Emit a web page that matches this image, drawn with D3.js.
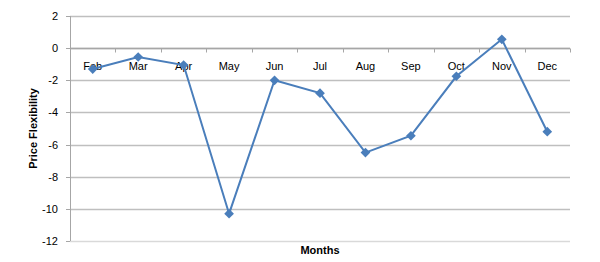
<!DOCTYPE html>
<html>
<head>
<meta charset="utf-8">
<script src="https://cdn.jsdelivr.net/npm/d3@7"></script>
<style>
  body { margin: 0; background: #fff; }
  text { font-family: "Liberation Sans", Arial, sans-serif; }
</style>
</head>
<body>
<div id="chart"></div>
<script>
// data
var months = ["Feb", "Mar", "Apr", "May", "Jun", "Jul", "Aug", "Sep", "Oct", "Nov", "Dec"];
var flexibility = [-1.3, -0.55, -1.05, -10.3, -2.0, -2.8, -6.5, -5.45, -1.75, 0.55, -5.2];
var yTicks = [2, 0, -2, -4, -6, -8, -10, -12];

var width = 600, height = 262;
// plot box (note: "top" is a window global, so use other names)
var plotLeft = 70, plotRight = 570, plotTop = 16, plotBottom = 241;

var svg = d3.select("#chart").append("svg")
    .attr("width", width)
    .attr("height", height);

var x = d3.scaleBand()
    .domain(months)
    .range([plotLeft, plotRight]);

var y = d3.scaleLinear()
    .domain([-12, 2])
    .range([plotBottom, plotTop]);

// horizontal gridlines
svg.selectAll("line.grid")
    .data(yTicks)
    .enter()
    .append("line")
    .attr("class", "grid")
    .attr("x1", plotLeft)
    .attr("x2", plotRight)
    .attr("y1", function(d) { return Math.round(y(d)) + 0.5; })
    .attr("y2", function(d) { return Math.round(y(d)) + 0.5; })
    .attr("stroke", function(d) { return d === -12 ? "#d9d9d9" : "#bfbfbf"; })
    .attr("stroke-width", 1.3);

// y axis line
svg.append("line")
    .attr("x1", plotLeft + 0.5).attr("x2", plotLeft + 0.5)
    .attr("y1", plotTop).attr("y2", plotBottom)
    .attr("stroke", "#a6a6a6");

// y tick labels
svg.selectAll("text.ylab")
    .data(yTicks)
    .enter()
    .append("text")
    .attr("class", "ylab")
    .attr("x", 58)
    .attr("y", function(d) { return y(d) + 4; })
    .attr("text-anchor", "end")
    .attr("font-size", "11px")
    .attr("fill", "#000")
    .text(function(d) { return d; });

// small tick stubs on y axis
svg.selectAll("line.ytick")
    .data(yTicks)
    .enter()
    .append("line")
    .attr("class", "ytick")
    .attr("x1", plotLeft - 4).attr("x2", plotLeft)
    .attr("y1", function(d) { return Math.round(y(d)) + 0.5; })
    .attr("y2", function(d) { return Math.round(y(d)) + 0.5; })
    .attr("stroke", "#a6a6a6");

// x axis crosses at zero, ticks between categories
var y0 = Math.round(y(0)) + 0.5;
svg.append("line")
    .attr("x1", plotLeft).attr("x2", plotRight)
    .attr("y1", y0).attr("y2", y0)
    .attr("stroke", "#a6a6a6")
    .attr("stroke-width", 1.3);

var boundaries = months.map(function(m) { return x(m); }).concat([plotRight]);
svg.selectAll("line.xtick")
    .data(boundaries)
    .enter()
    .append("line")
    .attr("class", "xtick")
    .attr("x1", function(d) { return Math.round(d) + 0.5; })
    .attr("x2", function(d) { return Math.round(d) + 0.5; })
    .attr("y1", y0).attr("y2", y0 + 4)
    .attr("stroke", "#a6a6a6");

// category labels just under the zero line
svg.selectAll("text.xlab")
    .data(months)
    .enter()
    .append("text")
    .attr("class", "xlab")
    .attr("x", function(d) { return x(d) + x.bandwidth() / 2; })
    .attr("y", y0 + 21)
    .attr("text-anchor", "middle")
    .attr("font-size", "11px")
    .attr("fill", "#000")
    .text(function(d) { return d; });

// the series
var line = d3.line()
    .x(function(d, i) { return x(months[i]) + x.bandwidth() / 2; })
    .y(function(d) { return y(d); });

svg.append("path")
    .datum(flexibility)
    .attr("d", line)
    .attr("fill", "none")
    .attr("stroke", "#4a7ebb")
    .attr("stroke-width", 2);

svg.selectAll("path.marker")
    .data(flexibility)
    .enter()
    .append("path")
    .attr("class", "marker")
    .attr("d", d3.symbol().type(d3.symbolDiamond2).size(60))
    .attr("transform", function(d, i) {
        return "translate(" + (x(months[i]) + x.bandwidth() / 2) + "," + y(d) + ")";
    })
    .attr("fill", "#4a7ebb");

// axis titles
svg.append("text")
    .attr("transform", "translate(37," + ((plotTop + plotBottom) / 2) + ") rotate(-90)")
    .attr("text-anchor", "middle")
    .attr("font-size", "11px")
    .attr("font-weight", "bold")
    .text("Price Flexibility");

svg.append("text")
    .attr("x", (plotLeft + plotRight) / 2)
    .attr("y", 254)
    .attr("text-anchor", "middle")
    .attr("font-size", "11px")
    .attr("font-weight", "bold")
    .text("Months");
</script>
</body>
</html>
